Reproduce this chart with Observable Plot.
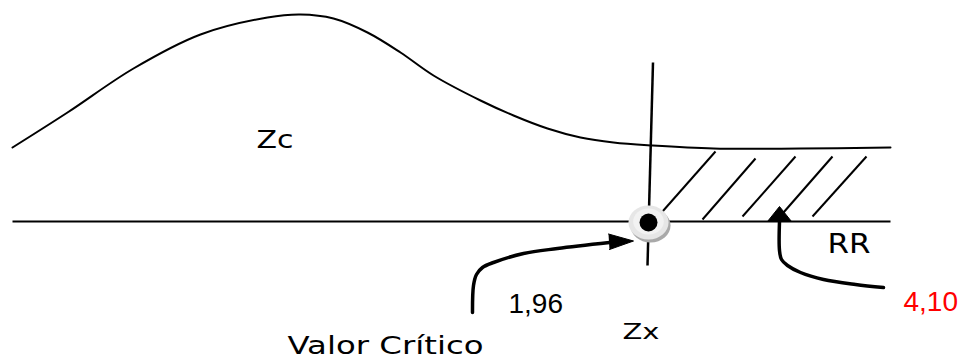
<!DOCTYPE html>
<html>
<head>
<meta charset="utf-8">
<script src="https://cdn.jsdelivr.net/npm/d3@7"></script>
<script src="https://cdn.jsdelivr.net/npm/@observablehq/plot@0.6"></script>
<style>
  html, body { margin: 0; padding: 0; background: #ffffff; }
  #chart svg { display: block; }
</style>
</head>
<body>
<div id="chart"></div>
<script>
// Diagram coordinates (x to the right, y downward)
const curveX = [12, 67, 133, 200, 267, 300, 333, 367, 400, 433, 480, 513, 547, 580, 613, 652, 713, 800, 890];
const curveY = [147, 112, 68, 34, 17, 14, 18, 32, 52, 75, 100, 115, 128, 137, 142, 145, 148, 148, 147];

const baseX = [12, 890];
const baseY = [221, 221];

const criticalX = [652.5, 647];
const criticalY = [62, 265];

const hatchX1 = [662, 702, 742, 783, 812];
const hatchY1 = [211, 219, 216, 212, 216];
const hatchX2 = [715, 755, 795, 832, 866];
const hatchY2 = [151, 158, 156, 156, 156];

const arrowCritX = [472, 473, 476, 482, 493, 523, 557, 609];
const arrowCritY = [312, 285, 274, 267, 262, 253, 248, 242];
const headCritX = [608, 633, 609];
const headCritY = [233.5, 240.5, 249];

const arrowRRX = [883, 855, 823, 800, 787, 781, 779, 779];
const arrowRRY = [287, 284, 279, 272, 265, 259, 250, 221];
const headRRX = [767, 779, 791];
const headRRY = [221, 206, 221];

const pointX = [648];
const pointY = [222];

const wordLabels = ["Zc", "Zx", "RR", "Valor Crítico"];
const wordX = [256, 622, 827, 287];
const wordY = [147, 338.5, 252, 353];
const wordSize = [25, 22, 26.5, 25];

const numberLabels = ["1,96", "4,10"];
const numberX = [508, 903];
const numberY = [312, 310];
const numberColor = ["#000000", "#ff0000"];

// helpers to build tables
const pts = (xs, ys) => xs.map((x, i) => ({x, y: ys[i]}));
const curve = pts(curveX, curveY);
const base = [{x1: baseX[0], y1: baseY[0], x2: baseX[1], y2: baseY[1]}];
const critical = [{x1: criticalX[0], y1: criticalY[0], x2: criticalX[1], y2: criticalY[1]}];
const hatch = hatchX1.map((x1, i) => ({x1, y1: hatchY1[i], x2: hatchX2[i], y2: hatchY2[i]}));
const arrowCrit = pts(arrowCritX, arrowCritY);
const arrowRR = pts(arrowRRX, arrowRRY);
const heads = [
  ...pts(headCritX, headCritY).map(d => ({...d, k: "crit"})),
  ...pts(headRRX, headRRY).map(d => ({...d, k: "rr"}))
];
const point = pts(pointX, pointY);
const words = wordLabels.map((t, i) => ({t, x: wordX[i], y: wordY[i], s: wordSize[i]}));
const numbers = numberLabels.map((t, i) => ({t, x: numberX[i], y: numberY[i], c: numberColor[i]}));

// elliptical symbol (the reference is slightly wider than tall)
const ellipse = {
  draw(ctx, size) {
    const r = Math.sqrt(size / Math.PI), rx = r * 1.18, ry = r, k = 0.5523;
    ctx.moveTo(rx, 0);
    ctx.bezierCurveTo(rx, ry * k, rx * k, ry, 0, ry);
    ctx.bezierCurveTo(-rx * k, ry, -rx, ry * k, -rx, 0);
    ctx.bezierCurveTo(-rx, -ry * k, -rx * k, -ry, 0, -ry);
    ctx.bezierCurveTo(rx * k, -ry, rx, -ry * k, rx, 0);
    ctx.closePath();
  }
};

const chart = Plot.plot({
  width: 968,
  height: 361,
  margin: 0,
  style: {background: "#ffffff", overflow: "visible"},
  x: {domain: [0, 968], range: [0, 968], axis: null},
  y: {domain: [0, 361], range: [0, 361], axis: null},
  color: {type: "identity"},
  marks: [
    Plot.line(curve, {x: "x", y: "y", curve: "catmull-rom", stroke: "#000", strokeWidth: 2}),
    Plot.link(base, {x1: "x1", y1: "y1", x2: "x2", y2: "y2", stroke: "#000", strokeWidth: 2}),
    Plot.link(critical, {x1: "x1", y1: "y1", x2: "x2", y2: "y2", stroke: "#000", strokeWidth: 2.5}),
    Plot.link(hatch, {x1: "x1", y1: "y1", x2: "x2", y2: "y2", stroke: "#000", strokeWidth: 2}),
    Plot.line(arrowCrit, {x: "x", y: "y", curve: "catmull-rom", stroke: "#000", strokeWidth: 3.5}),
    Plot.line(arrowRR, {x: "x", y: "y", curve: "catmull-rom", stroke: "#000", strokeWidth: 3.5}),
    Plot.line(heads, {x: "x", y: "y", z: "k", fill: "#000", stroke: "#000", strokeWidth: 1, strokeLinejoin: "miter"}),
    Plot.dot(point, {x: "x", y: "y", r: 17, symbol: ellipse, fill: "#a9a9a9", stroke: "none", dx: 2, dy: 3}),
    Plot.dot(point, {x: "x", y: "y", r: 17, symbol: ellipse, fill: "#e6e6e6", stroke: "none"}),
    Plot.dot(point, {x: "x", y: "y", r: 13, symbol: ellipse, fill: "#f2f2f2", stroke: "none", dy: -1}),
    Plot.dot(point, {x: "x", y: "y", r: 9, fill: "#000", stroke: "none"}),
    Plot.text(words, {x: "x", y: "y", text: "t", fontSize: "s", textAnchor: "start", lineAnchor: "bottom",
      fontFamily: "DejaVu Sans", fill: "#000"}),
    Plot.text(numbers, {x: "x", y: "y", text: "t", fontSize: 28, textAnchor: "start", lineAnchor: "bottom",
      fontFamily: "Liberation Sans", fill: "c"})
  ]
});

// stretch the word labels to the widths seen in the reference
const labelWidths = {"Zc": 37, "Zx": 37, "RR": 43, "Valor Crítico": 196};
chart.querySelectorAll("text").forEach(t => {
  const w = labelWidths[t.textContent];
  if (w) {
    t.setAttribute("textLength", w);
    t.setAttribute("lengthAdjust", "spacingAndGlyphs");
  }
});

document.getElementById("chart").appendChild(chart);
</script>
</body>
</html>
